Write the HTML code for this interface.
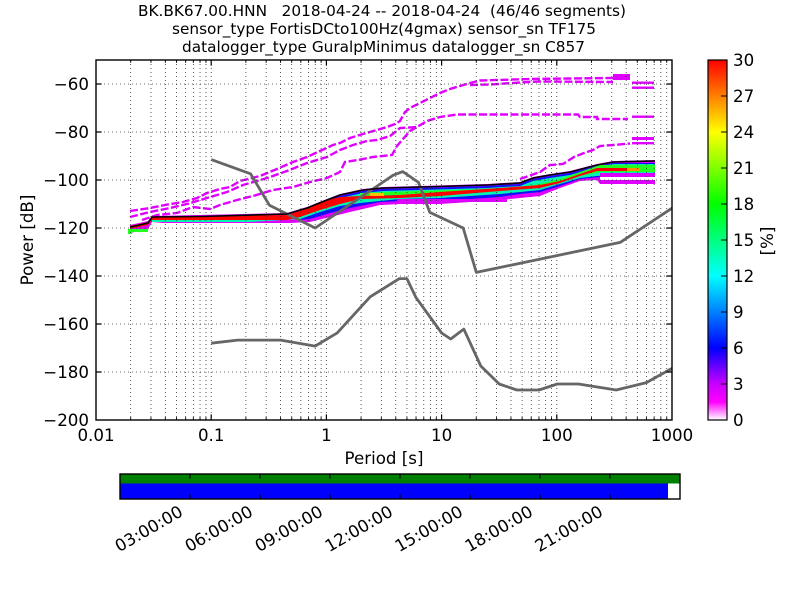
<!DOCTYPE html>
<html>
<head>
<meta charset="utf-8">
<style>
html,body{margin:0;padding:0;background:#fff;}
svg{display:block;}
text{font-family:"DejaVu Sans","Liberation Sans",sans-serif;fill:#000;}
</style>
</head>
<body>
<svg width="800" height="600" viewBox="0 0 800 600" xmlns="http://www.w3.org/2000/svg">
<defs>
  <linearGradient id="cmap" x1="0" y1="1" x2="0" y2="0">
    <stop offset="0" stop-color="#ffffff"/>
    <stop offset="0.05" stop-color="#ff00ff"/>
    <stop offset="0.1" stop-color="#c800ff"/>
    <stop offset="0.2" stop-color="#0000ff"/>
    <stop offset="0.4" stop-color="#00ffff"/>
    <stop offset="0.6" stop-color="#00ff00"/>
    <stop offset="0.8" stop-color="#ffff00"/>
    <stop offset="0.9" stop-color="#ff8000"/>
    <stop offset="1" stop-color="#ff0000"/>
  </linearGradient>
  <clipPath id="plotclip"><rect x="96" y="60" width="576" height="360"/></clipPath>
  <g id="dg">
    <path d="M0 60V420M34.68 60V420M54.96 60V420M69.36 60V420M80.52 60V420M89.64 60V420M97.36 60V420M104.04 60V420M109.93 60V420" stroke="#333" stroke-width="0.8" stroke-dasharray="1,3" fill="none"/>
    <path d="M34.68 420v-2.8M54.96 420v-2.8M69.36 420v-2.8M80.52 420v-2.8M89.64 420v-2.8M97.36 420v-2.8M104.04 420v-2.8M109.93 420v-2.8M34.68 60v2.8M54.96 60v2.8M69.36 60v2.8M80.52 60v2.8M89.64 60v2.8M97.36 60v2.8M104.04 60v2.8M109.93 60v2.8" stroke="#000" stroke-width="1" fill="none"/>
  </g>
</defs>

<!-- Title -->
<text x="138" y="16" font-size="15.3" textLength="488" lengthAdjust="spacingAndGlyphs" xml:space="preserve">BK.BK67.00.HNN   2018-04-24 -- 2018-04-24  (46/46 segments)</text>
<text x="172" y="34" font-size="15.3" textLength="424" lengthAdjust="spacingAndGlyphs">sensor_type FortisDCto100Hz(4gmax) sensor_sn TF175</text>
<text x="182" y="52" font-size="15.3" textLength="403" lengthAdjust="spacingAndGlyphs">datalogger_type GuralpMinimus datalogger_sn C857</text>

<!-- Histogram -->
<g clip-path="url(#plotclip)">
  <path fill="#e000ff" d="M130,225 L148,221 L152,216 L287,213 L307,207 L327,199 L340,194 L363,189 L383,187 L420,186 L487,184 L520,182 L533,177 L550,174 L570,171 L597,164 L613,161 L655,160 L655,184 L600,184 L597,180 L580,181 L560,188 L540,196 L520,198 L500,200 L470,202 L440,204 L420,204 L400,204 L380,205 L350,212 L330,217 L310,222 L290,223 L232,223 L163,223 L152,222 L148,229 L130,233 Z"/>
  <path fill="#1010ff" d="M300,211 L320,202 L340,196 L363,191 L383,189 L420,188 L487,186 L520,184 L533,179 L550,176 L570,173 L597,166 L613,163 L655,163 L655,177 L600,177 L580,179 L560,186 L540,192 L520,194 L500,197 L470,199 L440,201 L400,201 L380,202 L350,208 L330,213 L310,219 L300,220 Z"/>
  <path fill="#00f5b0" d="M152,219 L287,217 L300,213 L320,204 L340,198 L363,193 L383,191 L420,190 L487,188 L520,186 L533,181 L550,178 L570,175 L597,167 L613,164 L655,164 L655,175 L613,175 L597,176 L580,178 L560,184 L540,190 L500,194 L440,198 L400,199 L360,203 L340,206 L320,212 L300,219 L250,222 L152,222 Z"/>
  <path fill="#20ff20" d="M360,193 L420,191 L487,189 L520,187 L540,184 L560,179 L580,172 L600,165 L655,165 L655,172 L600,172 L580,176 L560,182 L540,187 L500,191 L440,194 L400,195 L360,196 Z"/>
  <path fill="#ff0000" d="M130,226 L148,222 L152,217 L287,215 L300,211 L320,202 L340,197 L360,196 L400,195 L440,192 L500,188 L540,185 L560,181 L580,174 L597,168 L627,168 L627,171 L597,171 L580,176 L560,183 L540,188 L500,191 L440,196 L400,198 L360,199 L340,204 L320,210 L300,217 L287,220 L152,220 L148,225 L130,229 Z"/>
  <rect x="627" y="168" width="13" height="3" fill="#ff9000"/>
  <rect x="128" y="229" width="20" height="3" fill="#20ff20"/>
  <rect x="128" y="231" width="4" height="3" fill="#20ff20"/>
  <rect x="370" y="193" width="14" height="3" fill="#ffc000"/>
  <rect x="600" y="173" width="55" height="4" fill="#e000ff"/>
  <rect x="600" y="180" width="55" height="3" fill="#e000ff"/>
  <rect x="600" y="177" width="55" height="3" fill="#ffffff"/>

  <g fill="none" stroke="#e000ff" stroke-width="2.4" stroke-dasharray="8,2.5">
    <polyline points="130,211 150,208 165,205 183,202 197,198 207,193 220,189 230,187 240,181 260,176 277,169 293,162 307,157 320,151 333,145 340,143 350,138 363,134 377,130 387,127 395,124 400,121 405,112 410,108 420,103 430,98 440,93 450,89 460,86 470,83 480,80.5 530,79 613,78"/>
    <polyline points="470,85 490,84.5 520,82.5 540,81.5 613,82"/>
    <polyline points="130,217 150,212 170,208 187,204 207,198 227,192 243,185 267,178 287,171 307,163 327,157 340,150 353,145 367,141 377,140 390,136 400,128 417,127 427,121 440,117 457,114.5 578,114.5 580,117 597,117 597,119 628,119"/>
    <polyline points="142,220 157,215 177,213 193,207 210,209 220,205 237,200 253,196 273,190 293,187 310,182 327,178 340,172 345,162 358,160 373,157 392,155 397,146 403,139 410,131 417,127"/>
    <polyline points="520,179 540,172 550,165 563,164 574,157 584,153 593,150 600,146 613,145 630,143.5"/>
  </g>
  <rect x="613" y="74" width="17" height="6" fill="#e000ff"/>
  <rect x="632" y="81.5" width="22" height="2.4" fill="#e000ff"/>
  <rect x="632" y="86.5" width="22" height="2.4" fill="#e000ff"/>
  <rect x="632" y="115.5" width="22" height="2.4" fill="#e000ff"/>
  <rect x="632" y="137" width="22" height="3" fill="#e000ff"/>
  <rect x="632" y="142" width="22" height="2.4" fill="#e000ff"/>
  <rect x="397" y="199" width="110" height="3" fill="#e000ff"/>
</g>

<!-- Grid -->
<use href="#dg" transform="translate(96,0)"/>
<use href="#dg" transform="translate(211.2,0)"/>
<use href="#dg" transform="translate(326.4,0)"/>
<use href="#dg" transform="translate(441.6,0)"/>
<use href="#dg" transform="translate(556.8,0)"/>
<path d="M96 84H672M96 132H672M96 180H672M96 228H672M96 276H672M96 324H672M96 372H672" stroke="#333" stroke-width="0.8" stroke-dasharray="1,3" fill="none"/>

<!-- Noise models -->
<g clip-path="url(#plotclip)" fill="none" stroke="#666666" stroke-width="2.8" stroke-linejoin="round">
  <polyline points="211.2,159.6 250.6,173.8 269.4,205.2 315.2,228 393.2,175.2 402.8,171.6 418.5,182.4 429.8,212.4 463.2,228 476.3,272.4 620.2,242.4 672,208.2"/>
  <polyline points="211.2,343.2 237.7,340.1 280.6,340.1 315.2,346.1 337.2,332.9 370.2,296.8 399.4,278.6 406.9,278.6 416,297.6 441.6,333 450.7,339 463.8,329.1 480.8,366 499.2,384 516.9,390 539,390 557.3,384 578.4,384 616.2,390 646.4,382.6 672,368.4"/>
</g>

<!-- Mean line -->
<polyline fill="none" stroke="#000" stroke-width="1.6" points="130,227 148,223 152,217 200,216.5 287,214 307,208 327,200 340,195 363,190 383,188 420,187 487,185 520,183 533,178 550,175 570,172 597,165 613,162 655,161"/>

<!-- Axes frame and ticks -->
<rect x="96" y="60" width="576" height="360" fill="none" stroke="#000" stroke-width="1.4"/>
<path d="M211.2 420v-5.6M326.4 420v-5.6M441.6 420v-5.6M556.8 420v-5.6M211.2 60v5.6M326.4 60v5.6M441.6 60v5.6M556.8 60v5.6
M96 84h5.6M96 132h5.6M96 180h5.6M96 228h5.6M96 276h5.6M96 324h5.6M96 372h5.6
M672 84h-5.6M672 132h-5.6M672 180h-5.6M672 228h-5.6M672 276h-5.6M672 324h-5.6M672 372h-5.6" stroke="#000" stroke-width="1.2" fill="none"/>

<!-- Y tick labels -->
<g font-size="16.67" text-anchor="end">
  <text x="89" y="90">−60</text>
  <text x="89" y="138">−80</text>
  <text x="89" y="186">−100</text>
  <text x="89" y="234">−120</text>
  <text x="89" y="282">−140</text>
  <text x="89" y="330">−160</text>
  <text x="89" y="378">−180</text>
  <text x="89" y="426">−200</text>
</g>
<!-- X tick labels -->
<g font-size="16.67" text-anchor="middle">
  <text x="96" y="441">0.01</text>
  <text x="211.2" y="441">0.1</text>
  <text x="326.4" y="441">1</text>
  <text x="441.6" y="441">10</text>
  <text x="556.8" y="441">100</text>
  <text x="672" y="441">1000</text>
</g>
<text x="384" y="464" font-size="16.67" text-anchor="middle">Period [s]</text>
<text x="0" y="0" font-size="16.67" text-anchor="middle" transform="translate(33,240) rotate(-90)">Power [dB]</text>

<!-- Colorbar -->
<rect x="708" y="60" width="19" height="360" fill="url(#cmap)" stroke="#000" stroke-width="1.2"/>
<path d="M727 96h-6M727 132h-6M727 168h-6M727 204h-6M727 240h-6M727 276h-6M727 312h-6M727 348h-6M727 384h-6" stroke="#000" stroke-width="1" fill="none"/>
<g font-size="16.67">
  <text x="733" y="66">30</text>
  <text x="733" y="102">27</text>
  <text x="733" y="138">24</text>
  <text x="733" y="174">21</text>
  <text x="733" y="210">18</text>
  <text x="733" y="246">15</text>
  <text x="733" y="282">12</text>
  <text x="733" y="318">9</text>
  <text x="733" y="354">6</text>
  <text x="733" y="390">3</text>
  <text x="733" y="426">0</text>
</g>
<text x="0" y="0" font-size="16.67" text-anchor="middle" transform="translate(773,241) rotate(-90)">[%]</text>

<!-- Data availability bar -->
<rect x="120" y="474" width="560" height="9.5" fill="#008000"/>
<rect x="120" y="483.5" width="548" height="15.5" fill="#0000ff"/>
<rect x="668" y="483.5" width="12" height="15.5" fill="#ffffff"/>
<rect x="120" y="474" width="560" height="25" fill="none" stroke="#000" stroke-width="1.4"/>
<path d="M190 474v4.5M260 474v4.5M330 474v4.5M400 474v4.5M470 474v4.5M540 474v4.5M610 474v4.5M190 499v-4.5M260 499v-4.5M330 499v-4.5M400 499v-4.5M470 499v-4.5M540 499v-4.5M610 499v-4.5" stroke="#000" stroke-width="1.2" fill="none"/>
<g font-size="16.67" text-anchor="end">
  <text x="184" y="515" transform="rotate(-30 184 515)">03:00:00</text>
  <text x="254" y="515" transform="rotate(-30 254 515)">06:00:00</text>
  <text x="324" y="515" transform="rotate(-30 324 515)">09:00:00</text>
  <text x="394" y="515" transform="rotate(-30 394 515)">12:00:00</text>
  <text x="464" y="515" transform="rotate(-30 464 515)">15:00:00</text>
  <text x="534" y="515" transform="rotate(-30 534 515)">18:00:00</text>
  <text x="604" y="515" transform="rotate(-30 604 515)">21:00:00</text>
</g>
</svg>
</body>
</html>
